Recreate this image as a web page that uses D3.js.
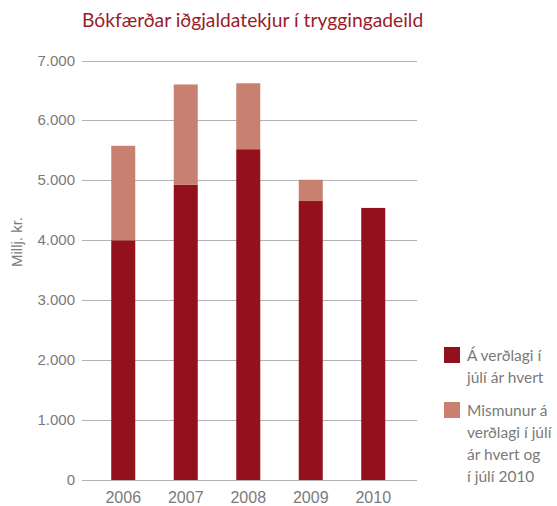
<!DOCTYPE html>
<html>
<head>
<meta charset="utf-8">
<script src="https://cdn.jsdelivr.net/npm/d3@7"></script>
<style>
  body { margin: 0; background: #fff; }
</style>
</head>
<body>
<div id="chart"></div>
<script>
// Data
var years = ["2006", "2007", "2008", "2009", "2010"];
var atPrice = [4000, 4925, 5520, 4655, 4540];       // Á verðlagi í júlí ár hvert
var difference = [1577, 1675, 1100, 355, 0];        // Mismunur á verðlagi
var yTicks = [0, 1000, 2000, 3000, 4000, 5000, 6000, 7000];
var seriesNames = [["Á verðlagi í", "júlí ár hvert"], ["Mismunur á", "verðlagi í júlí", "ár hvert og", "í júlí 2010"]];
var colors = ["#93111d", "#c88171"];

var width = 557, height = 506;

var svg = d3.select("#chart").append("svg")
    .attr("width", width)
    .attr("height", height);

// Scales
var x = d3.scaleBand()
    .domain(years)
    .range([92, 404.5])
    .paddingInner(0.616)
    .paddingOuter(0.308);

var y = d3.scaleLinear()
    .domain([0, 7000])
    .range([480, 60.5]);

// Title
svg.append("text")
    .attr("x", 82)
    .attr("y", 27)
    .attr("font-family", "Lato, sans-serif")
    .attr("font-size", 19.3)
    .attr("fill", "#9b1b2a")
    .text("Bókfærðar iðgjaldatekjur í tryggingadeild");

// Gridlines
svg.append("g")
    .selectAll("line")
    .data(yTicks)
    .enter().append("line")
    .attr("x1", 82)
    .attr("x2", 417)
    .attr("y1", function(d) { return Math.round(y(d)) + 0.5; })
    .attr("y2", function(d) { return Math.round(y(d)) + 0.5; })
    .attr("stroke", "#b3b3b3")
    .attr("stroke-width", 1.2);

// Y tick labels
svg.append("g")
    .selectAll("text")
    .data(yTicks)
    .enter().append("text")
    .attr("x", 75)
    .attr("y", function(d) { return y(d) + 5; })
    .attr("text-anchor", "end")
    .attr("font-family", "'Liberation Sans', Arial, sans-serif")
    .attr("font-size", 15)
    .attr("fill", "#7a7a7a")
    .text(function(d) { return d3.format(",")(d).replace(/,/g, "."); });

// Y axis title
svg.append("text")
    .attr("transform", "translate(22,242) rotate(-90)")
    .attr("text-anchor", "middle")
    .attr("font-family", "'Liberation Sans', Arial, sans-serif")
    .attr("font-size", 15)
    .attr("fill", "#7a7a7a")
    .text("Millj. kr.");

// Stacked bars
var stackData = years.map(function(yr, i) {
    return {year: yr, a: atPrice[i], b: difference[i]};
});
var series = d3.stack().keys(["a", "b"])(stackData);

svg.append("g")
    .selectAll("g")
    .data(series)
    .enter().append("g")
    .attr("fill", function(d, i) { return colors[i]; })
    .selectAll("rect")
    .data(function(d) { return d.filter(function(p) { return p[1] > p[0]; }); })
    .enter().append("rect")
    .attr("x", function(d) { return x(d.data.year); })
    .attr("y", function(d) { return y(d[1]); })
    .attr("width", x.bandwidth())
    .attr("height", function(d) { return y(d[0]) - y(d[1]); });

// X labels
svg.append("g")
    .selectAll("text")
    .data(years)
    .enter().append("text")
    .attr("x", function(d) { return x(d) + x.bandwidth() / 2; })
    .attr("y", 503)
    .attr("text-anchor", "middle")
    .attr("font-family", "'Liberation Sans', Arial, sans-serif")
    .attr("font-size", 16)
    .attr("fill", "#7a7a7a")
    .text(function(d) { return d; });

// Legend
var legend = svg.append("g");
var legendTop = [347, 402];
seriesNames.forEach(function(lines, i) {
    legend.append("rect")
        .attr("x", 444)
        .attr("y", legendTop[i])
        .attr("width", 16)
        .attr("height", 16)
        .attr("fill", colors[i]);
    legend.append("text")
        .attr("font-family", "Lato, sans-serif")
        .attr("font-size", 15.5)
        .attr("fill", "#7a7a7a")
        .selectAll("tspan")
        .data(lines)
        .enter().append("tspan")
        .attr("x", 467)
        .attr("y", function(d, j) { return legendTop[i] + 14 + j * 22; })
        .text(function(d) { return d; });
});
</script>
</body>
</html>
